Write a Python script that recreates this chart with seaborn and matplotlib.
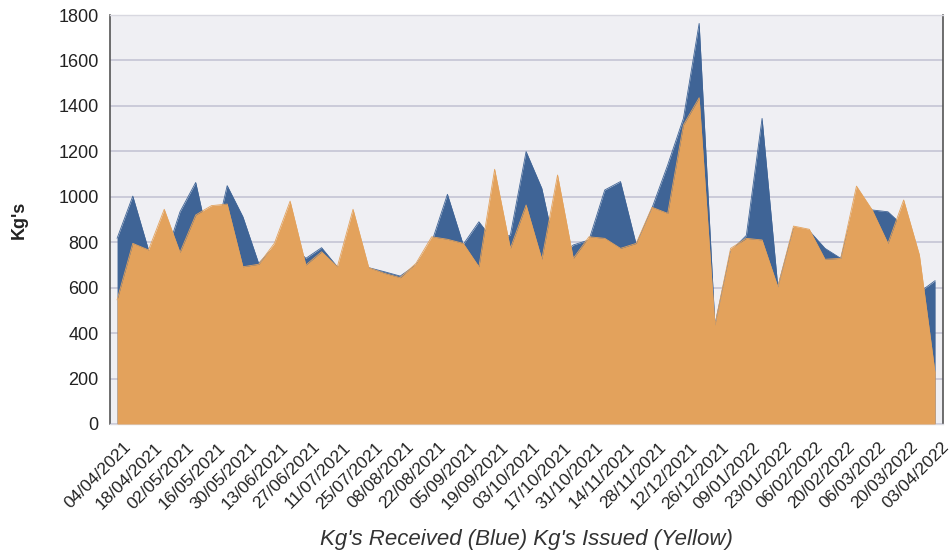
import matplotlib
matplotlib.use("Agg")
import matplotlib.pyplot as plt
import matplotlib.transforms as mtransforms
import seaborn as sns
import pandas as pd
import numpy as np

dates = pd.date_range("2021-04-04", periods=53, freq="7D").strftime("%d/%m/%Y").tolist()

received = [817, 1003, 766, 720, 934, 1063, 750, 1049, 912, 707,
            780, 800, 729, 776, 692, 700, 688, 670, 651, 700,
            800, 1011, 790, 890, 800, 832, 1199, 1037, 720, 788,
            810, 1030, 1067, 790, 950, 1140, 1345, 1763, 436, 760,
            830, 1345, 604, 860, 850, 773, 729, 1000, 942, 934,
            870, 580, 631]
issued = [546, 795, 766, 945, 755, 920, 961, 968, 692, 703,
          795, 981, 700, 758, 692, 945, 688, 663, 644, 707,
          824, 813, 795, 692, 1121, 773, 964, 725, 1096, 729,
          824, 817, 773, 795, 954, 927, 1316, 1436, 436, 773,
          817, 810, 604, 871, 857, 725, 729, 1047, 942, 795,
          986, 744, 223]

df = pd.DataFrame({"pos": np.arange(len(dates)), "date": dates,
                   "Received": received, "Issued": issued})

sns.set_theme(style="white")
plt.rcParams["font.family"] = ["Liberation Sans", "DejaVu Sans"]

fig = plt.figure(figsize=(9.53, 5.52), dpi=100)
ax = fig.add_axes([0.1154, 0.2319, 0.9895 - 0.1154, 0.9728 - 0.2319])
ax.set_facecolor("#efeff3")

blue = "#3f6496"
orange = "#e3a25c"

ax.fill_between(df["pos"], 0, df["Received"], color=blue, linewidth=0, zorder=2)
ax.fill_between(df["pos"], 0, df["Issued"], color=orange, linewidth=0, zorder=3)
sns.lineplot(data=df, x="pos", y="Received", ax=ax, color=blue, linewidth=0.6, zorder=2)
sns.lineplot(data=df, x="pos", y="Issued", ax=ax, color=orange, linewidth=0.6, zorder=3)

ax.set_ylim(0, 1800)
ax.set_xlim(-0.45, 52.5)
ax.set_yticks(np.arange(0, 1801, 200))
ax.yaxis.grid(True, color="#c4c4d4", linewidth=1.2, zorder=1)
ax.set_axisbelow(True)

ticks = df["pos"][::2]
ax.set_xticks(ticks)
ax.tick_params(axis="x", length=0, pad=4)
ax.tick_params(axis="y", length=0, pad=8, labelsize=13, labelcolor="#222222")
ax.set_xticklabels(df["date"][::2], rotation=45, ha="right", rotation_mode="anchor",
                   fontsize=12.5, color="#222222")
offset = mtransforms.ScaledTranslation(0.06, -0.10, fig.dpi_scale_trans)
for lbl in ax.get_xticklabels():
    lbl.set_transform(lbl.get_transform() + offset)

for side in ["left", "right"]:
    ax.spines[side].set_color("#555555")
    ax.spines[side].set_linewidth(1.2)
for side in ["top", "bottom"]:
    ax.spines[side].set_color("#d8d8e0")
    ax.spines[side].set_linewidth(1.0)

ax.set_ylabel("Kg's", fontsize=13, fontweight="bold", color="#222222", labelpad=22)
ax.set_xlabel("Kg's Received (Blue) Kg's Issued (Yellow)", fontsize=16, style="italic",
              color="#333333", labelpad=12)

fig.savefig("out.png", dpi=100)
